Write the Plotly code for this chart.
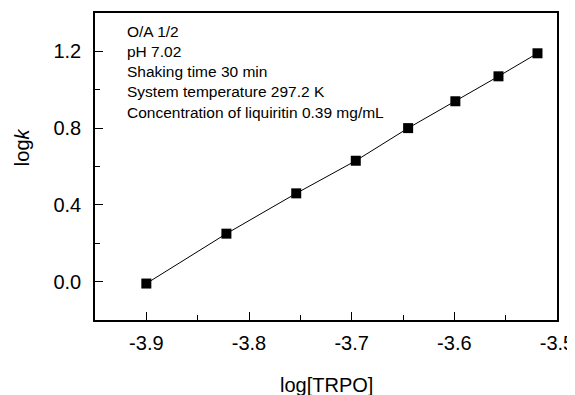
import plotly.graph_objects as go

log_trpo = [-3.900, -3.822, -3.754, -3.696, -3.645, -3.599, -3.557, -3.519]
log_k = [-0.01, 0.25, 0.46, 0.63, 0.80, 0.94, 1.07, 1.19]

x_ticks = [-3.9, -3.8, -3.7, -3.6, -3.5]
x_tick_labels = ["-3.9", "-3.8", "-3.7", "-3.6", "-3.5"]
y_ticks = [0.0, 0.4, 0.8, 1.2]
y_tick_labels = ["0.0", "0.4", "0.8", "1.2"]

conditions = [
    "O/A 1/2",
    "pH 7.02",
    "Shaking time 30 min",
    "System temperature 297.2 K",
    "Concentration of liquiritin 0.39 mg/mL",
]

FONT = "Liberation Sans, Arial, sans-serif"

fig = go.Figure()
fig.add_trace(go.Scatter(
    x=log_trpo, y=log_k, mode="lines+markers",
    line=dict(color="black", width=1),
    marker=dict(symbol="square", size=10, color="black"),
    showlegend=False,
))

axis_common = dict(
    showline=True, linecolor="black", linewidth=1.5, mirror=True,
    ticks="inside", ticklen=8, tickwidth=1, tickcolor="black",
    showgrid=False, zeroline=False, automargin=False,
    tickfont=dict(family=FONT, size=20, color="black"),
)

fig.update_xaxes(
    range=[-3.95, -3.5], tickvals=x_ticks, ticktext=x_tick_labels,
    minor=dict(dtick=0.05, tick0=-3.9, ticks="inside", ticklen=5, tickcolor="black"),
    ticklabelstandoff=4,
    **axis_common,
)
fig.update_yaxes(
    range=[-0.2, 1.4], tickvals=y_ticks, ticktext=y_tick_labels,
    minor=dict(dtick=0.2, tick0=0.2, ticks="inside", ticklen=5, tickcolor="black"),
    ticklabelstandoff=8,
    **axis_common,
)

# axis titles
fig.add_annotation(
    x=0.5, y=-0.212, xref="paper", yref="paper",
    xanchor="center", yanchor="middle", showarrow=False,
    text="log[TRPO]", font=dict(family=FONT, size=20, color="black"),
)
fig.add_annotation(
    x=-0.158, y=0.563, xref="paper", yref="paper",
    xanchor="center", yanchor="middle", showarrow=False, textangle=-90,
    text="log<i>k</i>", font=dict(family=FONT, size=20, color="black"),
)

fig.add_annotation(
    x=0.065, y=0.974, xref="paper", yref="paper",
    xanchor="left", yanchor="top", align="left", showarrow=False,
    text="<br>".join(conditions),
    font=dict(family=FONT, size=15.5, color="black"),
)

# the page body keeps its default 8px margin, so the figure is 8px smaller
fig.update_layout(
    width=567, height=387,
    margin=dict(l=87, r=18, t=5, b=75),
    paper_bgcolor="white", plot_bgcolor="white",
    font=dict(family=FONT, color="black"),
)

fig.write_html("out.html")
